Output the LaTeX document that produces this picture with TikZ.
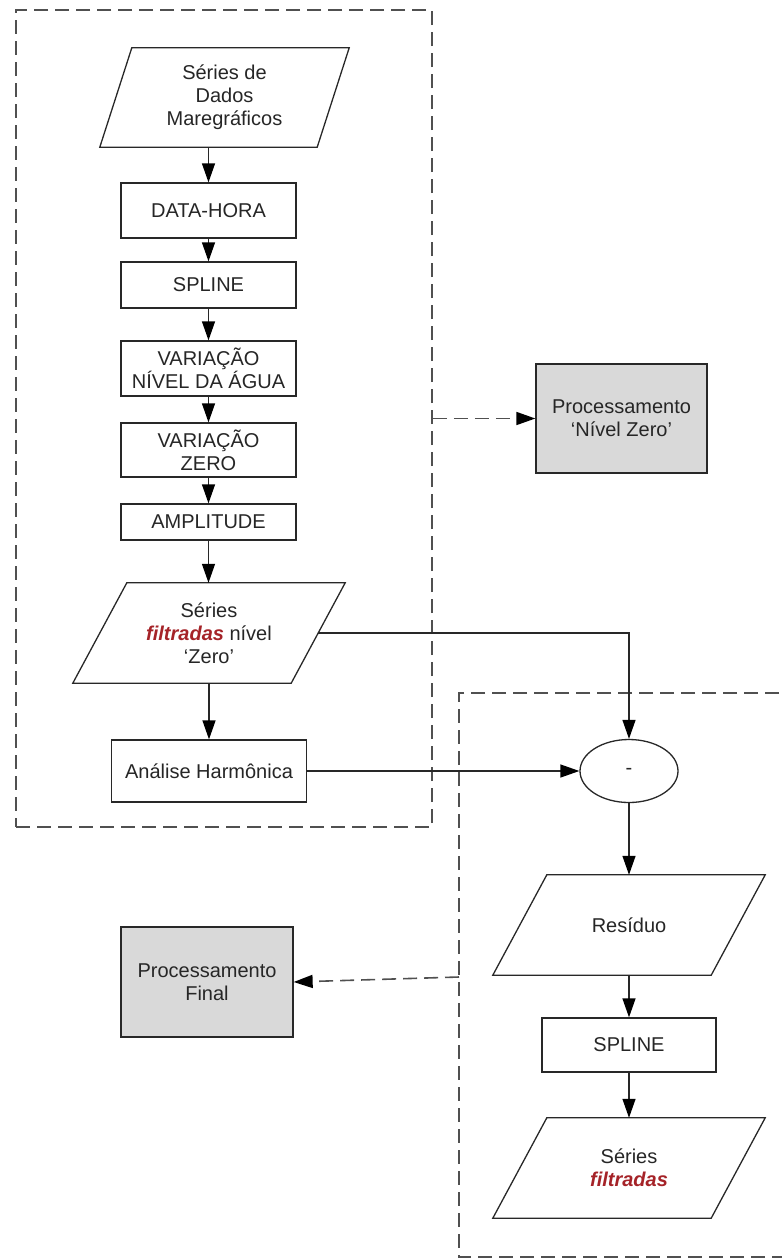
\documentclass[tikz,border=0pt]{standalone}
\usepackage{fontspec}
\setmainfont{Liberation Sans}
\usetikzlibrary{shapes.geometric}
\usetikzlibrary{arrows.meta}

\definecolor{linegray}{RGB}{40,40,40}
\definecolor{dashgray}{RGB}{80,80,80}
\definecolor{boxgray}{RGB}{217,217,217}
\definecolor{txtgray}{RGB}{38,38,38}
\definecolor{filtred}{RGB}{165,35,40}
\newcommand{\filt}[1]{\textcolor{filtred}{\bfseries\itshape #1}}
% parallelogram round a named node, #2 = half of the slant
\newcommand{\iopara}[2]{%
  \draw[ioline] ([xshift=-#2]#1.south west) -- ([xshift=#2]#1.north west)
    -- ([xshift=#2]#1.north east) -- ([xshift=-#2]#1.south east) -- cycle;}

\begin{document}
\begin{tikzpicture}[x=1pt,y=-1pt,
    font=\fontsize{20}{23}\selectfont, text=txtgray,
    every node/.style={align=center, inner sep=0pt},
    procbox/.style={draw=linegray, line width=1.3pt, rectangle, fill=white},
    iobox/.style={rectangle, minimum width=218pt, minimum height=100pt},
    ioline/.style={draw=linegray, line width=1.3pt, line join=miter},
    flow/.style={draw=linegray, line width=1.3pt, -{Triangle[length=19pt,width=13pt,color=black]}},
    link/.style={draw=dashgray, line width=1.6pt, dash pattern=on 14pt off 7pt,
      -{Triangle[length=19pt,width=13pt,color=black]}},
    groupbox/.style={draw=dashgray, line width=1.6pt, dash pattern=on 14pt off 7pt}]

  \useasboundingbox (0,0) rectangle (782,1259);

% groups
  \node[groupbox, minimum width=416pt, minimum height=817pt] (gA) at (224,418.5) {};
  \draw[groupbox] (800,693) -- (459,693) -- (459,1257) -- (800,1257);
  \coordinate (gB) at (459,977);

% first stage
  \node[iobox, minimum width=217pt, minimum height=99pt] (p1) at (224.5,97.5)
        {S\'eries de\\Dados\\Maregr\'aficos};
  \node[procbox, minimum width=175pt, minimum height=55pt] (dh)  at (208.5,210.5) {DATA-HORA};
  \node[procbox, minimum width=175pt, minimum height=46pt] (sp1) at (208.5,285) {SPLINE};
  \node[procbox, minimum width=175pt, minimum height=55pt] (vna) at (208.5,368.5) {VARIA\c{C}\~AO\\N\'IVEL DA \'AGUA};
  \node[procbox, minimum width=175pt, minimum height=54pt] (vz)  at (208.5,450) {VARIA\c{C}\~AO\\ZERO};
  \node[procbox, minimum width=175pt, minimum height=36pt] (amp) at (208.5,522) {AMPLITUDE};
  \node[iobox] (p2) at (209,633) {S\'eries\\\filt{filtradas} n\'ivel\\‘Zero’};
  \node[procbox, minimum width=195pt, minimum height=62pt] (ah)  at (209,771) {An\'alise Harm\^onica};
  \iopara{p1}{16pt}
  \iopara{p2}{27pt}

% outputs
  \node[procbox, fill=boxgray, minimum width=171pt, minimum height=109pt] (pnz) at (621.5,418.5)
        {Processamento\\‘N\'ivel Zero’};
  \node[procbox, fill=boxgray, minimum width=172pt, minimum height=110pt] (pf) at (207,982)
        {Processamento\\Final};

% second stage
  \node[draw=linegray, line width=1.3pt, ellipse, minimum width=98pt, minimum height=63pt] (diff) at (629,771) {-};
  \node[iobox] (res) at (629,925) {Res\'iduo};
  \node[procbox, minimum width=174pt, minimum height=54pt] (sp2) at (629,1045) {SPLINE};
  \node[iobox] (sf) at (629,1168) {S\'eries\\\filt{filtradas}};
  \iopara{res}{27pt}
  \iopara{sf}{27pt}

% connectors
  \draw[flow] (p1.south -| dh.north) -- (dh.north);
  \draw[flow] (dh) -- (sp1);
  \draw[flow] (sp1) -- (vna);
  \draw[flow] (vna) -- (vz);
  \draw[flow] (vz) -- (amp);
  \draw[flow] (amp.south) -- (amp.south |- p2.north);
  \draw[flow] (p2.south -| ah.north) -- (ah.north);
  \draw[flow] (p2.east) -| (diff.north);
  \draw[flow] (ah.east) -- (diff.west);
  \draw[flow] (diff.south) -- (diff.south |- res.north);
  \draw[flow] (res.south -| sp2.north) -- (sp2.north);
  \draw[flow] (sp2.south) -- (sp2.south |- sf.north);

  \draw[link] (gA.east |- pnz.west) -- (pnz.west);
  \draw[link] (gB) -- (pf.east);

\end{tikzpicture}
\end{document}
